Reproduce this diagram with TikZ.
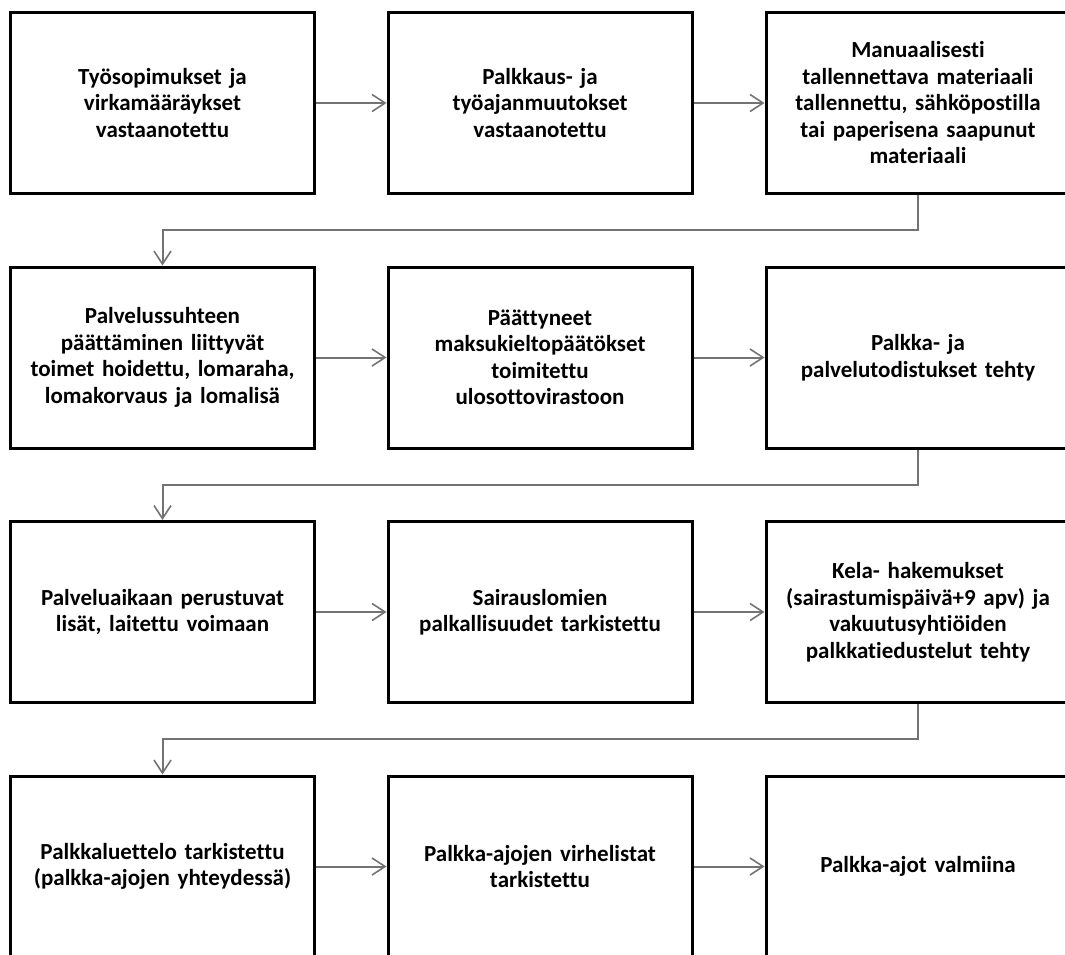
\documentclass[tikz,border=0pt]{standalone}
\usepackage{fontspec}
\setmainfont{Carlito}[Ligatures=NoCommon]
\usetikzlibrary{arrows.meta,calc}
\tikzset{
  stepbox/.style={draw=black, line width=3pt, minimum width=304pt, minimum height=181pt,
    text width=298pt, align=center, inner sep=0pt,
    font=\bfseries\fontsize{23pt}{26.5pt}\selectfont},
  conn/.style={draw=black!55, line width=2pt,
    -{Straight Barb[length=13pt,width=17pt,line width=1.6pt]}}
}
\begin{document}
\begin{tikzpicture}[x=1pt,y=-1pt]
\useasboundingbox (0,0) rectangle (1065,954);
\clip (0,0) rectangle (1065,954);
% row 1
\node[stepbox] (a1) at (162.5,103) {Työsopimukset ja\\virkamääräykset\\vastaanotettu};
\node[stepbox] (a2) at (540,103) {Palkkaus- ja\\työajanmuutokset\\vastaanotettu};
\node[stepbox] (a3) at (918,103) {Manuaalisesti\\tallennettava materiaali\\tallennettu, sähköpostilla\\tai paperisena saapunut\\materiaali};
% row 2
\node[stepbox] (b1) at (162.5,357.5) {Palvelussuhteen\\päättäminen liittyvät\\toimet hoidettu, lomaraha,\\lomakorvaus ja lomalisä};
\node[stepbox] (b2) at (540,357.5) {Päättyneet\\maksukieltopäätökset\\toimitettu\\ulosottovirastoon};
\node[stepbox] (b3) at (918,357.5) {Palkka- ja\\palvelutodistukset tehty};
% row 3
\node[stepbox] (c1) at (162.5,612) {Palveluaikaan perustuvat\\lisät, laitettu voimaan};
\node[stepbox] (c2) at (540,612) {Sairauslomien\\palkallisuudet tarkistettu};
\node[stepbox] (c3) at (918,612) {Kela- hakemukset\\(sairastumispäivä+9 apv) ja\\vakuutusyhtiöiden\\palkkatiedustelut tehty};
% row 4
\node[stepbox] (d1) at (162.5,866.5) {Palkkaluettelo tarkistettu\\(palkka-ajojen yhteydessä)};
\node[stepbox] (d2) at (540,866.5) {Palkka-ajojen virhelistat\\tarkistettu};
\node[stepbox] (d3) at (918,866.5) {Palkka-ajot valmiina};
% connectors
\draw[conn] (a1) -- (a2);
\draw[conn] (a2) -- (a3);
\draw[conn] (b1) -- (b2);
\draw[conn] (b2) -- (b3);
\draw[conn] (c1) -- (c2);
\draw[conn] (c2) -- (c3);
\draw[conn] (d1) -- (d2);
\draw[conn] (d2) -- (d3);
\draw[conn] (a3.south) |- ($(a3.south)!0.5!(b1.north)$) -| (b1.north);
\draw[conn] (b3.south) |- ($(b3.south)!0.5!(c1.north)$) -| (c1.north);
\draw[conn] (c3.south) |- ($(c3.south)!0.5!(d1.north)$) -| (d1.north);
\end{tikzpicture}
\end{document}
